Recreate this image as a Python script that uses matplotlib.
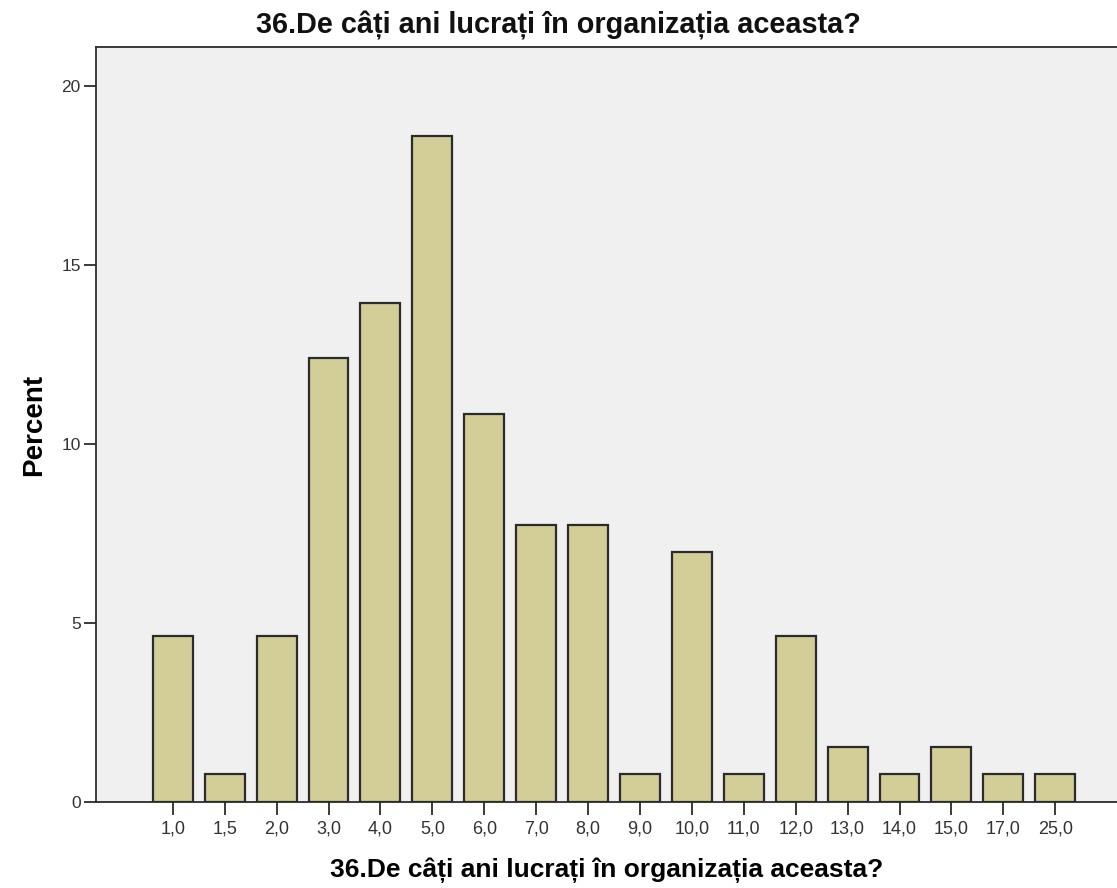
import numpy as np
import matplotlib.pyplot as plt

# Years in organisation (categories) and percent of respondents
years = ["1,0", "1,5", "2,0", "3,0", "4,0", "5,0", "6,0", "7,0", "8,0",
         "9,0", "10,0", "11,0", "12,0", "13,0", "14,0", "15,0", "17,0", "25,0"]
percent = [4.65, 0.78, 4.65, 12.40, 13.95, 18.60, 10.85, 7.75, 7.75,
           0.78, 6.98, 0.78, 4.65, 1.55, 0.78, 1.55, 0.78, 0.78]

title = "36.De câți ani lucrați în organizația aceasta?"

plt.rcParams['font.family'] = ['Liberation Sans', 'DejaVu Sans']

fig = plt.figure(figsize=(11.17, 8.88), dpi=100)
ax = fig.add_axes([0.0859, 0.0968, 0.9141, 0.850])
ax.set_facecolor("#f0f0f0")

x = np.arange(len(years))
ax.bar(x, percent, width=0.77, color="#d3ce97", edgecolor="#2b2b2b", linewidth=1.6)

ax.set_xlim(-1.48, 18.19)
ax.set_ylim(0, 21.09)
ax.set_xticks(x)
ax.set_xticklabels(years, fontsize=13, color="#333333")
ax.set_yticks([0, 5, 10, 15, 20])
ax.set_yticklabels(["0", "5", "10", "15", "20"], fontsize=12.5, color="#333333")
ax.tick_params(axis='both', direction='out', length=9, width=1.3, color="#2b2b2b", pad=4)
ax.tick_params(axis='y', length=9, pad=2)

for side in ['left', 'bottom', 'top']:
    ax.spines[side].set_color("#2b2b2b")
    ax.spines[side].set_linewidth(1.3)
ax.spines['right'].set_visible(False)

ax.set_ylabel("Percent", fontsize=20, fontweight='bold', labelpad=10)
ax.set_xlabel(title, fontsize=19, fontweight='bold', labelpad=15)
fig.text(0.5, 1 - 33 / 888, title, fontsize=20.8, fontweight='bold',
         color="#111111", ha='center', va='baseline')

fig.savefig("out.png", dpi=100)
